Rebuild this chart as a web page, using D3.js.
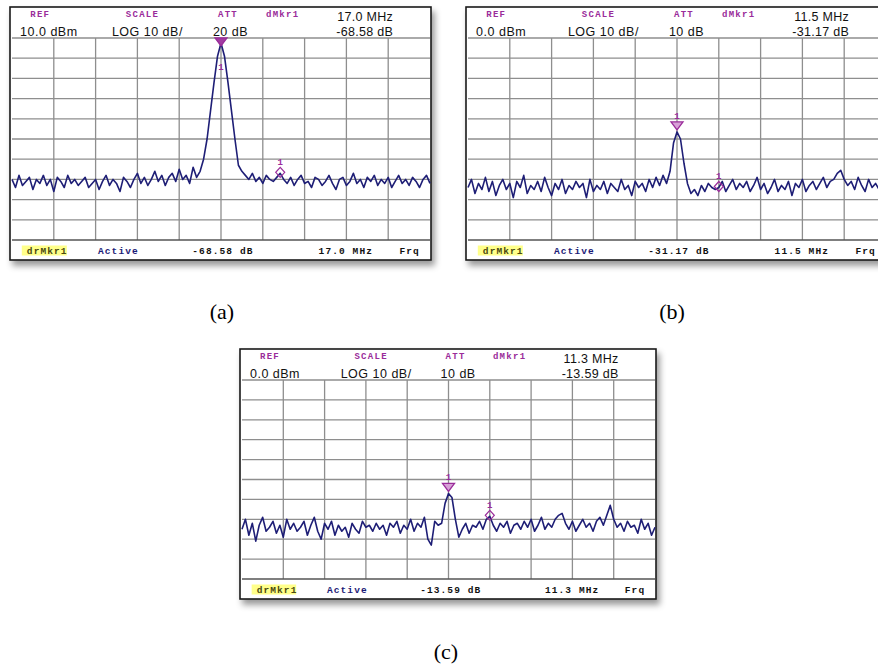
<!DOCTYPE html>
<html>
<head>
<style>
  body { margin: 0; background: #fff; }
  svg { display: block; }
  .mono { font-family: "Liberation Mono", "DejaVu Sans Mono", monospace; font-weight: bold; }
  .sans { font-family: "Liberation Sans", Arial, sans-serif; }
</style>
</head>
<body>
<svg id="chart" width="878" height="666"></svg>
<script src="https://d3js.org/d3.v7.min.js"></script>
<script>
// readouts for the three analyser screens
const captions = ["(a)", "(b)", "(c)"];
const refLevels = [10, 0, 0];          // dBm at top graticule line
const refText = ["10.0 dBm", "0.0 dBm", "0.0 dBm"];
const scaleText = ["LOG 10 dB/", "LOG 10 dB/", "LOG 10 dB/"];
const attText = ["20 dB", "10 dB", "10 dB"];
const mkrFreq = ["17.0 MHz", "11.5 MHz", "11.3 MHz"];
const mkrDelta = ["-68.58 dB", "-31.17 dB", "-13.59 dB"];
const mainMkr = [60, 60, 60];           // trace point index of marker 1
const deltaMkr = [77, 72, 72];          // trace point index of delta marker

// traces, dBm, 121 points across the 10 divisions
const traceA = [
  -60,-64,-58,-63,-61,-59,-65,-60,-62,-58,
  -63,-60,-66,-59,-61,-64,-58,-62,-60,-63,
  -61,-59,-64,-62,-60,-65,-61,-58,-63,-60,
  -62,-66,-59,-61,-64,-60,-57,-62,-59,-63,
  -60,-56,-61,-58,-63,-59,-57,-61,-55,-60,
  -58,-62,-54,-59,-56,
  -50,-40,-26,-12,1,7.5,1,-12,-26,-40,-53,-56,
  -58,-60,-57,-61,-59,-62,-58,-60,-61,-59,-57,-60,-62,
  -59,-63,-60,-58,-62,-61,-64,-59,-60,-63,
  -61,-58,-62,-65,-60,-59,-63,-61,-57,-62,
  -60,-64,-59,-61,-58,-63,-60,-62,-59,-64,
  -61,-58,-62,-60,-63,-59,-61,-64,-60,-58,-62
];
const traceB = [
  -74,-70,-77,-72,-75,-69,-76,-71,-78,-73,
  -70,-75,-72,-79,-71,-74,-68,-77,-73,-75,
  -71,-76,-69,-74,-78,-72,-75,-70,-77,-73,
  -75,-71,-74,-72,-79,-70,-76,-73,-75,-71,
  -77,-72,-74,-76,-70,-75,-73,-78,-71,-74,
  -72,-76,-70,-74,-69,-73,-68,
  -72,-66,-52,-46.5,-50,-62,-72,-77,
  -75,-78,-73,-76,-72,-74,-75,-74,-71,-76,-73,-70,-75,-72,-74,
  -71,-76,-73,-69,-75,-72,-77,-74,-70,-76,
  -73,-75,-71,-78,-72,-74,-70,-76,-73,-71,
  -75,-72,-69,-74,-71,-70,-67,-65.5,-70,-73,
  -71,-75,-69,-73,-76,-70,-74,-72,-75,-71,-73
];
const traceC = [
  -75,-70,-78,-72,-81,-73,-69,-76,-74,-71,
  -77,-73,-79,-70,-75,-72,-76,-74,-71,-78,
  -73,-69,-76,-80,-72,-75,-71,-78,-73,-76,
  -74,-79,-72,-75,-77,-71,-74,-73,-76,-72,
  -75,-73,-78,-72,-74,-71,-77,-73,-75,-70,
  -76,-72,-74,-69,-80,-83,-71,-73,
  -72,-62,-57,-59,-70,-79,
  -75,-72,-77,-73,-74,-71,-75,-70,-68.5,-73,-76,-72,-74,-71,-77,-73,
  -72,-75,-71,-74,-70,-76,-73,-69,-75,-72,
  -74,-70,-68,-67,-72,-75,-71,-76,-73,-70,
  -74,-72,-76,-71,-69,-73,-68,-63,-70,-74,
  -72,-76,-71,-74,-73,-77,-70,-75,-72,-78,-74
];
const traces = [traceA, traceB, traceC];

const layout = [
  {x: 10, y: 7, w: 421, h: 253, cx: 222, cy: 319},
  {x: 466, y: 7, w: 421, h: 253, cx: 672, cy: 319},
  {x: 240, y: 349, w: 416, h: 250, cx: 446, cy: 659}
];

const purple = "#9a2c9a";
const svg = d3.select("#chart");

const defs = svg.append("defs");
defs.append("filter").attr("id", "shadow")
    .attr("x", "-5%").attr("y", "-5%").attr("width", "115%").attr("height", "120%")
  .append("feDropShadow")
    .attr("dx", 3).attr("dy", 5).attr("stdDeviation", 3)
    .attr("flood-color", "#000").attr("flood-opacity", 0.4);

layout.forEach((L, k) => {
  const g = svg.append("g");
  const gx0 = L.x + 2, gx1 = L.x + L.w - 1;
  const gy0 = L.y + 31, gy1 = L.y + L.h - 20;

  g.append("rect")
      .attr("x", L.x).attr("y", L.y).attr("width", L.w).attr("height", L.h)
      .attr("fill", "#fff").attr("stroke", "#1a1a1a").attr("stroke-width", 1.6)
      .attr("filter", "url(#shadow)");

  // graticule
  const divX = d3.scaleLinear().domain([0, 10]).range([gx0, gx1]);
  const divY = d3.scaleLinear().domain([0, 10]).range([gy0, gy1]);
  g.append("g").attr("stroke", "#8e8e8e").attr("stroke-width", 1.3)
    .selectAll("line").data(d3.range(1, 10)).join("line")
      .attr("x1", d => divX(d)).attr("x2", d => divX(d))
      .attr("y1", gy0).attr("y2", gy1);
  g.append("g").attr("stroke", "#8e8e8e").attr("stroke-width", 1.3)
    .selectAll("line").data(d3.range(0, 10)).join("line")
      .attr("x1", gx0).attr("x2", gx1)
      .attr("y1", d => divY(d)).attr("y2", d => divY(d));
  g.append("line").attr("x1", gx0).attr("x2", gx1).attr("y1", gy1).attr("y2", gy1)
      .attr("stroke", "#555").attr("stroke-width", 1.4);

  // header
  const hdr = [
    {t: "REF", f: 0.048}, {t: "SCALE", f: 0.275}, {t: "ATT", f: 0.494}, {t: "dMkr1", f: 0.608}
  ];
  g.selectAll("text.lbl").data(hdr).join("text").attr("class", "lbl mono")
      .attr("x", d => L.x + d.f * L.w).attr("y", L.y + 10)
      .attr("font-size", 9).attr("letter-spacing", 1.3).attr("fill", purple)
      .text(d => d.t);
  const vals = [
    {t: refText[k], f: 0.024}, {t: scaleText[k], f: 0.242}, {t: attText[k], f: 0.482}
  ];
  g.selectAll("text.val").data(vals).join("text").attr("class", "val sans")
      .attr("x", d => L.x + d.f * L.w).attr("y", L.y + 29)
      .attr("font-size", 12.5).attr("letter-spacing", 0.5).attr("fill", "#111")
      .text(d => d.t);
  g.append("text").attr("class", "sans")
      .attr("x", L.x + 0.91 * L.w).attr("y", L.y + 14).attr("text-anchor", "end")
      .attr("font-size", 12.5).attr("letter-spacing", 0.3).attr("fill", "#111")
      .text(mkrFreq[k]);
  g.append("text").attr("class", "sans")
      .attr("x", L.x + 0.91 * L.w).attr("y", L.y + 29).attr("text-anchor", "end")
      .attr("font-size", 12.5).attr("letter-spacing", 0.3).attr("fill", "#111")
      .text(mkrDelta[k]);

  // footer
  const fy = L.y + L.h - 6.5;
  g.append("rect").attr("x", L.x + 0.028 * L.w).attr("y", fy - 8)
      .attr("width", 0.107 * L.w).attr("height", 10).attr("fill", "#ffff8a");
  const foot = [
    {t: "drMkr1", f: 0.04, c: "#4a4a10"}, {t: "Active", f: 0.209, c: "#1c1c78"},
    {t: mkrDelta[k], f: 0.433, c: "#111"}, {t: mkrFreq[k], f: 0.733, c: "#111"},
    {t: "Frq", f: 0.925, c: "#111"}
  ];
  g.selectAll("text.ft").data(foot).join("text").attr("class", "ft mono")
      .attr("x", d => L.x + d.f * L.w).attr("y", fy)
      .attr("font-size", 9.5).attr("letter-spacing", 1.1).attr("fill", d => d.c)
      .text(d => d.t);

  // trace
  const data = traces[k];
  const xs = d3.scaleLinear().domain([0, data.length - 1]).range([gx0, gx1]);
  const ys = d3.scaleLinear().domain([refLevels[k] - 100, refLevels[k]]).range([gy1, gy0]);
  g.append("path").datum(data)
      .attr("fill", "none").attr("stroke", "#1e1e76").attr("stroke-width", 1.6)
      .attr("stroke-linejoin", "round")
      .attr("d", d3.line().x((d, i) => xs(i)).y(d => ys(d)));

  // marker 1 (triangle)
  const mx = xs(mainMkr[k]);
  const tip = Math.max(ys(data[mainMkr[k]]) - 2, gy0 + 8);
  g.append("path")
      .attr("d", `M${mx - 6},${tip - 8}L${mx + 6},${tip - 8}L${mx},${tip}Z`)
      .attr("fill", k === 0 ? "#a23ca2" : "#d7a0d7").attr("stroke", purple).attr("stroke-width", 1.3);
  const above = tip - 8 - 12 > gy0;
  g.append("text").attr("class", "mono")
      .attr("x", mx).attr("y", above ? tip - 11 : tip + 24).attr("text-anchor", "middle")
      .attr("font-size", 9).attr("fill", purple).text("1");

  // delta marker (diamond)
  const dx = xs(deltaMkr[k]);
  const dy = ys(data[deltaMkr[k]]) - 1;
  g.append("path")
      .attr("d", `M${dx},${dy - 5}L${dx + 4.5},${dy}L${dx},${dy + 5}L${dx - 4.5},${dy}Z`)
      .attr("fill", "none").attr("stroke", purple).attr("stroke-width", 1.2);
  g.append("text").attr("class", "mono")
      .attr("x", dx).attr("y", dy - 7).attr("text-anchor", "middle")
      .attr("font-size", 9).attr("fill", purple).text("1");

  // caption
  svg.append("text")
      .attr("x", L.cx).attr("y", L.cy).attr("text-anchor", "middle")
      .attr("font-family", "'Liberation Serif', 'Times New Roman', serif")
      .attr("font-size", 22).attr("fill", "#000")
      .text(captions[k]);
});
</script>
</body>
</html>
